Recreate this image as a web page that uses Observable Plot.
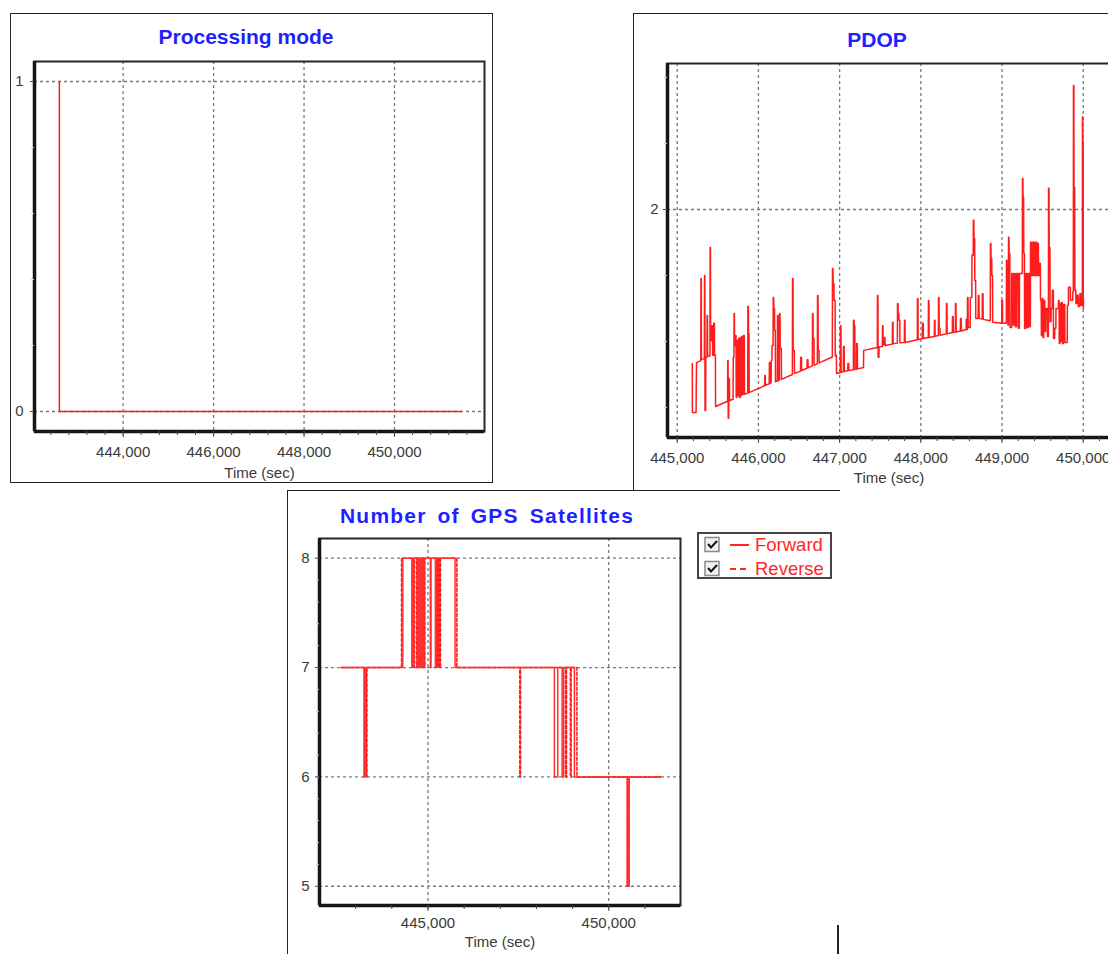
<!DOCTYPE html>
<html>
<head>
<meta charset="utf-8">
<script src="https://cdn.jsdelivr.net/npm/d3@7"></script>
<script src="https://cdn.jsdelivr.net/npm/@observablehq/plot@0.6"></script>
<style>
  html, body { margin: 0; padding: 0; background: #fff; }
  body { position: relative; width: 1108px; height: 954px; overflow: hidden;
         font-family: "Liberation Sans", Arial, sans-serif; }
  .abs { position: absolute; box-sizing: border-box; }
  .title { position: absolute; transform: translate(-50%, -50%); color: #1f1fff;
           font-weight: bold; font-size: 21px; white-space: nowrap; }
  .legend-text { position: absolute; transform: translateY(-50%); color: #ff2626;
                 font-size: 18.5px; white-space: nowrap; }
</style>
</head>
<body>
<!-- panel outlines -->
<div class="abs" style="left:10px;top:13px;width:483px;height:470px;border:1.5px solid #222;"></div>
<div class="abs" style="left:633px;top:13px;width:600px;height:477px;border-left:1.5px solid #222;border-top:1.5px solid #222;"></div>
<div class="abs" style="left:287px;top:490px;width:553px;height:480px;border-left:1.5px solid #222;border-top:1.5px solid #222;"></div>
<div class="abs" style="left:837px;top:925px;width:1.5px;height:29px;background:#222;"></div>

<div id="mode" class="abs" style="left:10px;top:13px;width:483px;"></div>
<div id="pdop" class="abs" style="left:633px;top:13px;width:485px;"></div>
<div id="sats" class="abs" style="left:287px;top:490px;width:400px;"></div>

<div class="title" style="left:246px;top:37px;">Processing mode</div>
<div class="title" style="left:877px;top:40px;">PDOP</div>
<div class="title" style="left:487px;top:516px;letter-spacing:1.2px;word-spacing:4px;">Number of GPS Satellites</div>

<div id="legend" class="abs" style="left:697px;top:532px;width:135px;height:47px;border:2px solid #444;background:#fff;"></div>

<script>
// ---- Processing mode ----
const modeTime = [442590, 442590, 451480];
const modeValue = [1, 0, 0];
const modeXTicks = [444000, 446000, 448000, 450000];
const modeYTicks = [0, 1];

// ---- PDOP: [time (sec), PDOP] ----
const pdopReadings = [
  [445185, 1.533], [445187, 1.385], [445232, 1.385], [445234, 1.458], [445238, 1.536],
  [445290, 1.542], [445292, 1.791], [445296, 1.791], [445298, 1.545], [445334, 1.548],
  [445336, 1.800], [445340, 1.800], [445342, 1.391], [445350, 1.391], [445352, 1.552],
  [445366, 1.552], [445368, 1.679], [445372, 1.679], [445374, 1.555], [445403, 1.556],
  [445405, 1.885], [445409, 1.885], [445411, 1.603], [445424, 1.603], [445426, 1.648],
  [445434, 1.648], [445436, 1.558], [445448, 1.558], [445450, 1.655], [445458, 1.655],
  [445460, 1.558], [445470, 1.558], [445472, 1.403],
  [445620, 1.419], [445622, 1.542], [445626, 1.542], [445628, 1.367], [445634, 1.367],
  [445636, 1.488], [445642, 1.488], [445644, 1.421], [445688, 1.425], [445690, 1.552],
  [445698, 1.552], [445700, 1.685], [445704, 1.685], [445706, 1.588], [445716, 1.588],
  [445718, 1.618], [445724, 1.618], [445726, 1.430], [445734, 1.430], [445736, 1.603],
  [445744, 1.603], [445746, 1.436], [445754, 1.436], [445756, 1.609], [445764, 1.609],
  [445766, 1.430], [445774, 1.430], [445776, 1.612], [445784, 1.612], [445786, 1.436],
  [445794, 1.436], [445796, 1.615], [445804, 1.615], [445806, 1.440], [445814, 1.440],
  [445816, 1.618], [445826, 1.618], [445828, 1.440], [445868, 1.444], [445870, 1.706],
  [445876, 1.706], [445878, 1.624], [445884, 1.624], [445886, 1.445], [446076, 1.466],
  [446078, 1.497], [446084, 1.497], [446086, 1.467], [446133, 1.472], [446135, 1.536],
  [446141, 1.536], [446143, 1.473], [446156, 1.475], [446158, 1.542], [446166, 1.542],
  [446168, 1.588], [446180, 1.588], [446182, 1.733], [446188, 1.733], [446190, 1.700],
  [446198, 1.700], [446200, 1.633], [446208, 1.633], [446210, 1.478], [446233, 1.481],
  [446235, 1.679], [446241, 1.679], [446243, 1.481], [446258, 1.483], [446260, 1.685],
  [446266, 1.685], [446268, 1.579], [446282, 1.579], [446284, 1.485], [446418, 1.500],
  [446420, 1.791], [446426, 1.791], [446428, 1.573], [446442, 1.573], [446444, 1.503],
  [446518, 1.510], [446520, 1.552], [446530, 1.552], [446532, 1.512], [446598, 1.519],
  [446600, 1.545], [446610, 1.545], [446612, 1.520], [446664, 1.526], [446666, 1.685],
  [446672, 1.685], [446674, 1.609], [446684, 1.609], [446686, 1.528], [446726, 1.533],
  [446728, 1.739], [446734, 1.739], [446736, 1.573], [446746, 1.573], [446748, 1.535],
  [446910, 1.553], [446912, 1.821], [446918, 1.821], [446920, 1.776], [446930, 1.776],
  [446932, 1.724], [446944, 1.724], [446946, 1.556], [446960, 1.558],
  [446962, 1.503], [447008, 1.505], [447010, 1.648], [447016, 1.648], [447018, 1.507],
  [447046, 1.508], [447048, 1.585], [447056, 1.585], [447058, 1.509], [447100, 1.511],
  [447102, 1.533], [447112, 1.533], [447114, 1.512], [447169, 1.514], [447171, 1.664],
  [447177, 1.664], [447179, 1.648], [447187, 1.648], [447189, 1.515], [447208, 1.516],
  [447210, 1.594], [447218, 1.594], [447220, 1.517], [447294, 1.521],
  [447296, 1.573], [447464, 1.582], [447466, 1.739], [447472, 1.739], [447474, 1.552],
  [447484, 1.552], [447486, 1.583], [447526, 1.585], [447528, 1.648], [447534, 1.648],
  [447536, 1.590], [447548, 1.590], [447550, 1.612], [447558, 1.612], [447560, 1.588],
  [447649, 1.592], [447651, 1.658], [447657, 1.658], [447659, 1.593], [447711, 1.595],
  [447713, 1.715], [447719, 1.715], [447721, 1.685], [447729, 1.685], [447731, 1.664],
  [447741, 1.664], [447743, 1.596], [447797, 1.597], [447799, 1.664], [447805, 1.664],
  [447807, 1.597], [447957, 1.605], [447959, 1.730], [447965, 1.730], [447967, 1.606],
  [448018, 1.608], [448020, 1.655], [448030, 1.655], [448032, 1.609], [448092, 1.612],
  [448094, 1.724], [448100, 1.724], [448102, 1.612], [448166, 1.615], [448168, 1.664],
  [448174, 1.664], [448176, 1.616], [448216, 1.618], [448218, 1.733], [448224, 1.733],
  [448226, 1.640], [448236, 1.640], [448238, 1.619], [448314, 1.623], [448316, 1.715],
  [448322, 1.715], [448324, 1.623], [448388, 1.627], [448390, 1.676], [448398, 1.676],
  [448400, 1.627], [448425, 1.628], [448427, 1.715], [448433, 1.715], [448435, 1.629],
  [448487, 1.632], [448489, 1.670], [448497, 1.670], [448499, 1.632], [448558, 1.636],
  [448560, 1.667], [448566, 1.667], [448568, 1.636], [448573, 1.636], [448575, 1.733],
  [448581, 1.733], [448583, 1.642], [448608, 1.642],
  [448610, 1.733], [448628, 1.733], [448630, 1.861], [448645, 1.861], [448647, 1.967],
  [448653, 1.967], [448655, 1.912], [448663, 1.912], [448665, 1.785], [448675, 1.785],
  [448677, 1.670], [448706, 1.670], [448708, 1.739], [448716, 1.739], [448718, 1.670],
  [448756, 1.668], [448758, 1.745], [448766, 1.745], [448768, 1.667], [448855, 1.663],
  [448857, 1.897], [448863, 1.897], [448865, 1.852], [448873, 1.852], [448875, 1.800],
  [448883, 1.800], [448885, 1.658], [448996, 1.655], [448998, 1.724], [449006, 1.724],
  [449008, 1.655], [449053, 1.655], [449055, 1.846], [449061, 1.846], [449063, 1.700],
  [449071, 1.700], [449073, 1.650], [449078, 1.650], [449080, 1.916], [449086, 1.916],
  [449088, 1.867], [449096, 1.867], [449098, 1.642],
  [449118, 1.642], [449120, 1.806], [449133, 1.806], [449135, 1.650], [449148, 1.650],
  [449150, 1.806], [449163, 1.806], [449165, 1.645], [449178, 1.645], [449180, 1.806],
  [449198, 1.806], [449200, 1.640], [449213, 1.640], [449215, 1.806], [449250, 1.806],
  [449252, 2.094], [449257, 2.094], [449259, 2.037], [449266, 2.037], [449268, 1.867],
  [449276, 1.867], [449278, 1.639], [449293, 1.639], [449295, 1.806], [449308, 1.806],
  [449310, 1.642], [449323, 1.642], [449325, 1.806], [449338, 1.806], [449340, 1.645],
  [449349, 1.645], [449351, 1.901], [449358, 1.901], [449360, 1.800], [449366, 1.800],
  [449368, 1.901], [449374, 1.901], [449376, 1.800], [449382, 1.800], [449384, 1.901],
  [449390, 1.901], [449392, 1.800], [449398, 1.800], [449400, 1.901], [449408, 1.901],
  [449410, 1.800], [449418, 1.800], [449420, 1.901], [449428, 1.901], [449430, 1.800],
  [449438, 1.800], [449440, 1.897], [449448, 1.897], [449450, 1.800], [449458, 1.800],
  [449460, 1.836], [449472, 1.836], [449474, 1.724],
  [449483, 1.724], [449485, 1.618], [449493, 1.618], [449495, 1.730], [449503, 1.730],
  [449505, 1.612], [449513, 1.612], [449515, 1.724], [449526, 1.724], [449528, 1.630],
  [449538, 1.630], [449540, 1.700], [449558, 1.700], [449560, 1.615], [449571, 1.615],
  [449573, 2.064], [449579, 2.064], [449581, 1.885], [449590, 1.885], [449592, 1.660],
  [449603, 1.660], [449605, 1.700], [449618, 1.700], [449620, 1.755], [449632, 1.755],
  [449634, 1.609], [449648, 1.609], [449650, 1.640], [449663, 1.640], [449665, 1.700],
  [449694, 1.700], [449696, 1.724], [449703, 1.724], [449705, 1.594], [449713, 1.594],
  [449715, 1.715], [449723, 1.715], [449725, 1.600], [449733, 1.600], [449735, 1.718],
  [449743, 1.718], [449745, 1.594], [449758, 1.594], [449760, 1.712], [449773, 1.712],
  [449775, 1.597], [449803, 1.597], [449805, 1.710], [449817, 1.710], [449819, 1.764],
  [449841, 1.764], [449843, 1.725], [449870, 1.725], [449872, 1.750], [449878, 1.750],
  [449880, 2.376], [449885, 2.376], [449887, 2.067], [449895, 2.067], [449897, 1.755],
  [449908, 1.755], [449910, 1.715], [449923, 1.715], [449925, 1.740], [449938, 1.740],
  [449940, 1.706], [449958, 1.706], [449960, 1.745], [449973, 1.745], [449975, 1.710],
  [449989, 1.710], [449991, 2.280], [449994, 2.280], [449996, 2.204], [449999, 2.204],
  [450001, 1.700], [450004, 1.724]
];
const pdopXTicks = [445000, 446000, 447000, 448000, 449000, 450000];
const pdopYTicks = [2];

// ---- Number of GPS satellites (forward and reverse runs) ----
const fwdTime = [
  442600, 443230, 443230, 443265, 443265, 444303, 444303, 444555, 444555, 444575,
  444575, 444715, 444715, 444735, 444735, 444770, 444770, 444795, 444795, 444830,
  444830, 444850, 444850, 444880, 444880, 444895, 444895, 445065, 445065, 445085,
  445085, 445205, 445205, 445225, 445225, 445750, 445750, 448498, 448498, 448589,
  448589, 448711, 448711, 448755, 448755, 449051, 449051, 450510, 450510, 450565,
  450565, 451430
];
const fwdSats = [
  7, 7, 6, 6, 7, 7, 8, 8, 7, 7,
  8, 8, 7, 7, 8, 8, 7, 7, 8, 8,
  7, 7, 8, 8, 7, 7, 8, 8, 7, 7,
  8, 8, 7, 7, 8, 8, 7, 7, 6, 6,
  7, 7, 6, 6, 7, 7, 6, 6, 5, 5,
  6, 6
];
const revTime = [
  442600, 443285, 443285, 443310, 443310, 444270, 444270, 444600, 444600, 444620,
  444620, 444680, 444680, 444690, 444690, 444750, 444750, 444760, 444760, 444905,
  444905, 444915, 444915, 445240, 445240, 445255, 445255, 445290, 445290, 445305,
  445305, 445335, 445335, 445345, 445345, 445800, 445800, 447540, 447540, 447560,
  447560, 448810, 448810, 448830, 448830, 448940, 448940, 448960, 448960, 449120,
  449120, 450520, 450520, 450560, 450560, 451430
];
const revSats = [
  7, 7, 6, 6, 7, 7, 8, 8, 7, 7,
  8, 8, 7, 7, 8, 8, 7, 7, 8, 8,
  7, 7, 8, 8, 7, 7, 8, 8, 7, 7,
  8, 8, 7, 7, 8, 8, 7, 7, 6, 6,
  7, 7, 6, 6, 7, 7, 6, 6, 7, 7,
  6, 6, 5, 5, 6, 6
];
const satsXTicks = [445000, 450000];
const satsYTicks = [5, 6, 7, 8];
const legendLabels = ["Forward", "Reverse"];

// ---- shared styling ----
const RED = "#ff1c1c";
const INK = "#3a3a3a";
const grid = {stroke: "#7a7a7a", strokeOpacity: 1, strokeWidth: 1.3, strokeDasharray: "3,3"};
const thousands = d3.format(",");
const steps = (a, b, s) => d3.range(a, b + s / 2, s).map(v => +v.toFixed(6));

function framedPlot(cfg) {
  const x0 = cfg.xDomain[0], y0 = cfg.yDomain[0];
  return Plot.plot({
    width: cfg.width, height: cfg.height,
    marginLeft: cfg.ml, marginRight: cfg.mr, marginTop: cfg.mt, marginBottom: cfg.mb,
    style: {fontFamily: "Liberation Sans, Arial, sans-serif", fontSize: "15px",
            color: INK, background: "transparent", overflow: "visible"},
    x: {domain: cfg.xDomain, label: null},
    y: {domain: cfg.yDomain, label: null},
    marks: [
      Plot.gridX(cfg.xTicks, grid),
      Plot.gridY(cfg.yTicks, grid),
      ...cfg.marks,
      Plot.frame({stroke: "#262626", strokeWidth: 2}),
      Plot.ruleX([x0], {stroke: "#161616", strokeWidth: 3.5}),
      Plot.ruleY([y0], {stroke: "#161616", strokeWidth: 3.5}),
      Plot.axisX(cfg.xMinor, {tickSize: 4, tickFormat: () => "", stroke: "#444", label: null}),
      Plot.axisX(cfg.xTicks, {tickSize: 6, tickFormat: () => "", stroke: "#444", label: null}),
      Plot.axisY(cfg.yMinor, {tickSize: 3, tickFormat: () => "", stroke: "#cfcfcf", label: null}),
      Plot.axisY(cfg.yTicks, {tickSize: 4, tickFormat: () => "", stroke: "#444", label: null}),
      Plot.text(cfg.xTicks, {x: d => d, frameAnchor: "bottom", dy: cfg.xLabelDy,
        text: d => thousands(d), lineAnchor: "middle", fill: INK}),
      Plot.text(cfg.yTicks, {y: d => d, frameAnchor: "left", dx: cfg.yLabelDx,
        text: d => String(d), textAnchor: "end", lineAnchor: "middle", fill: INK}),
      Plot.text(["Time (sec)"], {frameAnchor: "bottom", dy: cfg.axisTitleDy,
        text: d => d, lineAnchor: "middle", fill: INK})
    ]
  });
}

// Processing mode
document.getElementById("mode").append(framedPlot({
  width: 483, height: 470, ml: 24, mr: 9, mt: 48, mb: 52,
  xDomain: [442040, 451990], yDomain: [-0.0606, 1.0606],
  xTicks: modeXTicks, xMinor: steps(442400, 451600, 400),
  yTicks: modeYTicks, yMinor: steps(0.2, 0.8, 0.2),
  xLabelDy: 21, yLabelDx: -11, axisTitleDy: 42,
  marks: [
    Plot.line(modeTime.map((t, i) => [t, modeValue[i]]),
      {x: d => d[0], y: d => d[1], stroke: RED, strokeWidth: 1.5})
  ]
}));

// PDOP
document.getElementById("pdop").append(framedPlot({
  width: 485, height: 477, ml: 34, mr: 8, mt: 50, mb: 53,
  xDomain: [444880, 450336], yDomain: [1.309, 2.4424],
  xTicks: pdopXTicks, xMinor: steps(445000, 450200, 200),
  yTicks: pdopYTicks, yMinor: steps(1.4, 2.4, 0.2),
  xLabelDy: 21, yLabelDx: -9, axisTitleDy: 41,
  marks: [
    Plot.line(pdopReadings, {x: d => d[0], y: d => d[1], stroke: RED, strokeWidth: 1.5})
  ]
}));

// Number of GPS satellites
document.getElementById("sats").append(framedPlot({
  width: 400, height: 464, ml: 32, mr: 7, mt: 48, mb: 49,
  xDomain: [442000, 451985], yDomain: [4.824, 8.18],
  xTicks: satsXTicks, xMinor: steps(443000, 451000, 1000),
  yTicks: satsYTicks, yMinor: steps(5.2, 7.8, 0.2),
  xLabelDy: 18, yLabelDx: -10, axisTitleDy: 37,
  marks: [
    Plot.line(revTime.map((t, i) => [t, revSats[i]]),
      {x: d => d[0], y: d => d[1], stroke: RED, strokeWidth: 1.6, strokeDasharray: "3,2"}),
    Plot.line(fwdTime.map((t, i) => [t, fwdSats[i]]),
      {x: d => d[0], y: d => d[1], stroke: "#ff3030", strokeWidth: 1.5})
  ]
}));

// legend with check boxes and line samples
const legend = document.getElementById("legend");
const ns = "http://www.w3.org/2000/svg";
legendLabels.forEach((label, i) => {
  const cy = 11 + i * 24;
  const g = document.createElementNS(ns, "svg");
  g.setAttribute("width", "52"); g.setAttribute("height", "18");
  g.style.position = "absolute"; g.style.left = "5px"; g.style.top = (cy - 9) + "px";
  g.innerHTML =
    `<rect x="1" y="1.5" width="14" height="14" fill="#f2f2f2" stroke="#8a8a8a" stroke-width="1.5"/>` +
    `<path d="M4 8 L7 11.5 L13 5" fill="none" stroke="#111" stroke-width="2"/>` +
    `<line x1="26" x2="45" y1="9" y2="9" stroke="#ff2626" stroke-width="2"` +
    (i === 1 ? ` stroke-dasharray="6,4"` : ``) + `/>`;
  legend.append(g);
  const t = document.createElement("div");
  t.className = "legend-text";
  t.style.left = "56px"; t.style.top = cy + "px";
  t.textContent = label;
  legend.append(t);
});
</script>
</body>
</html>
